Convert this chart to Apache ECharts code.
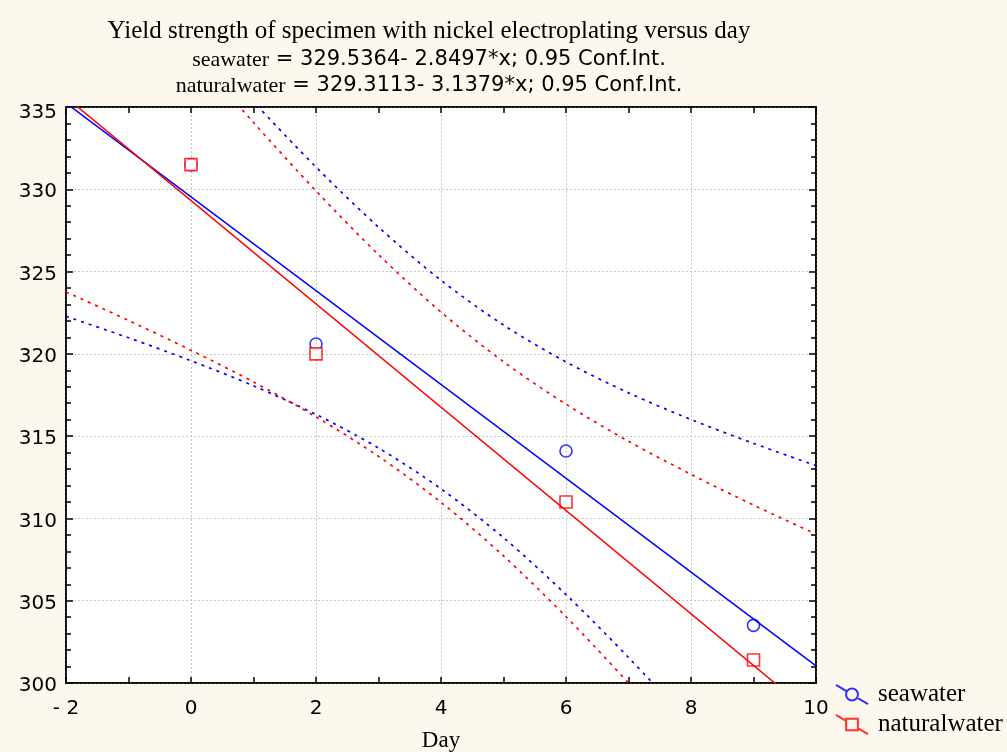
<!DOCTYPE html>
<html>
<head>
<meta charset="utf-8">
<script src="https://cdn.jsdelivr.net/npm/echarts@6/dist/echarts.min.js"></script>
<style>
html,body{margin:0;padding:0;background:#FCF8EE;}
#chart{width:1007px;height:752px;}
</style>
</head>
<body>
<div id="chart"></div>
<script>
// Observed data points
var dayX = [0, 2, 6, 9];
var seaY = [331.5, 320.6, 314.1, 303.5];
var natY = [331.5, 320.0, 311.0, 301.4];

// Regression lines (endpoints at axis limits)
var fitX = [-2, 10];
var seaFitY = [335.24, 301.04];
var natFitY = [335.59, 297.93];

// 0.95 confidence bands read at each day
var bandX = [-2, -1, 0, 1, 2, 3, 4, 5, 6, 7, 8, 9, 10];
var seaUpper = [348.19, 343.80, 339.49, 335.32, 331.35, 327.70, 324.47, 321.75, 319.51, 317.63, 316.01, 314.56, 313.21];
var seaLower = [322.28, 320.98, 319.58, 318.06, 316.32, 314.28, 311.80, 308.83, 305.37, 301.55, 297.47, 293.22, 288.87];
var natUpper = [347.42, 342.87, 338.40, 334.06, 329.90, 326.03, 322.54, 319.52, 316.94, 314.69, 312.68, 310.81, 309.05];
var natLower = [323.76, 322.03, 320.22, 318.29, 316.17, 313.77, 310.98, 307.72, 304.03, 300.00, 295.74, 291.33, 286.82];

// Titles
var titleMain = 'Yield strength of specimen with nickel electroplating versus day';
var eqSea = ['seawater', ' = 329.5364- 2.8497*x; 0.95 Conf.Int.'];
var eqNat = ['naturalwater', ' = 329.3113- 3.1379*x; 0.95 Conf.Int.'];
var xName = 'Day';

function zip(xs, ys) { return xs.map(function (x, i) { return [x, ys[i]]; }); }

var BLUE = '#0000FF', RED = '#FF0000';
var SERIF = 'Liberation Serif', SANS = 'DejaVu Sans';

var circleIcon = 'path://M0 1 L10.2 7.1 M19.8 12.9 L30 19 M20.6 10 A5.6 5.6 0 1 1 9.4 10 A5.6 5.6 0 1 1 20.6 10 Z';
var squareIcon = 'path://M0 1 L9.5 6.7 M20.5 13.3 L30 19 M9.5 4.5 L20.5 4.5 L20.5 15.5 L9.5 15.5 Z';

var chart = echarts.init(document.getElementById('chart'), null, {renderer: 'canvas'});

var axisLineStyle = {color: '#000', width: 1.5};

chart.setOption({
  backgroundColor: '#FCF8EE',
  animation: false,
  title: {
    left: 424,
    top: 10,
    textAlign: 'center',
    text: '{t|' + titleMain + '}\n{s|' + eqSea[0] + '}{n|' + eqSea[1] + '}\n{s|' + eqNat[0] + '}{n|' + eqNat[1] + '}',
    textStyle: {
      fontWeight: 'normal',
      rich: {
        t: {fontFamily: SERIF, fontSize: 25, fontWeight: 'normal', lineHeight: 32, color: '#000'},
        s: {fontFamily: SERIF, fontSize: 22, fontWeight: 'normal', lineHeight: 26, color: '#000'},
        n: {fontFamily: SANS, fontSize: 21, fontWeight: 'normal', lineHeight: 26, color: '#000'}
      }
    }
  },
  legend: {
    orient: 'vertical',
    left: 830,
    top: 677,
    itemWidth: 32,
    itemHeight: 20,
    itemGap: 5,
    textStyle: {fontFamily: SERIF, fontSize: 25, lineHeight: 20, color: '#000', padding: [0, 0, 0, 5]},
    data: [
      {name: 'seawater', icon: circleIcon, itemStyle: {color: 'transparent', borderColor: BLUE, borderWidth: 2}},
      {name: 'naturalwater', icon: squareIcon, itemStyle: {color: 'transparent', borderColor: RED, borderWidth: 2}}
    ]
  },
  grid: {
    left: 66, right: 191, top: 107, bottom: 69,
    outerBoundsMode: 'none', containLabel: false,
    show: true, backgroundColor: '#FFFFFF', borderColor: '#000', borderWidth: 1.5
  },
  xAxis: [{
    type: 'value', min: -2, max: 10, interval: 2,
    name: xName, nameLocation: 'middle', nameGap: 46,
    nameTextStyle: {fontFamily: SERIF, fontSize: 23, color: '#000'},
    axisLine: {show: true, onZero: false, lineStyle: axisLineStyle},
    axisTick: {show: true, inside: true, length: 6, lineStyle: {color: '#000', width: 1.5}},
    minorTick: {show: true, splitNumber: 2, length: 6, lineStyle: {color: '#000', width: 1.5}},
    splitLine: {show: true, lineStyle: {color: '#c8c8c8', type: [2, 2], width: 1}},
    axisLabel: {
      fontFamily: SANS, fontSize: 20, color: '#000', margin: 16,
      formatter: function (v) { return v < 0 ? '- ' + Math.abs(v) : String(v); }
    }
  }, {
    type: 'value', min: -2, max: 10, interval: 2, position: 'top',
    axisLine: {show: true, onZero: false, lineStyle: axisLineStyle},
    axisTick: {show: true, inside: true, length: 6, lineStyle: {color: '#000', width: 1.5}},
    minorTick: {show: true, splitNumber: 2, length: 6, lineStyle: {color: '#000', width: 1.5}},
    splitLine: {show: false},
    axisLabel: {show: false}
  }],
  yAxis: [{
    type: 'value', min: 300, max: 335, interval: 5,
    axisLine: {show: true, onZero: false, lineStyle: axisLineStyle},
    axisTick: {show: true, inside: true, length: 7, lineStyle: {color: '#000', width: 1.5}},
    minorTick: {show: true, splitNumber: 5, length: 5, lineStyle: {color: '#000', width: 1.5}},
    splitLine: {show: true, lineStyle: {color: '#c8c8c8', type: [2, 2], width: 1}},
    axisLabel: {
      fontFamily: SANS, fontSize: 20, color: '#000', margin: 9,
      formatter: function (v) { return v === 335 ? '{a|' + v + '}' : '{b|' + v + '}'; },
      rich: {
        a: {fontFamily: SANS, fontSize: 20, color: '#000', padding: [12, 0, 0, 0]},
        b: {fontFamily: SANS, fontSize: 20, color: '#000', padding: [6, 0, 0, 0]}
      }
    }
  }, {
    type: 'value', min: 300, max: 335, interval: 5, position: 'right',
    axisLine: {show: true, onZero: false, lineStyle: axisLineStyle},
    axisTick: {show: true, inside: true, length: 7, lineStyle: {color: '#000', width: 1.5}},
    minorTick: {show: true, splitNumber: 5, length: 5, lineStyle: {color: '#000', width: 1.5}},
    splitLine: {show: false},
    axisLabel: {show: false}
  }],
  series: [
    {name: 'seaUpper', type: 'line', data: zip(bandX, seaUpper), smooth: 0.3, symbol: 'none', silent: true,
     lineStyle: {color: BLUE, width: 1.7, type: [3, 5]}},
    {name: 'seaLower', type: 'line', data: zip(bandX, seaLower), smooth: 0.3, symbol: 'none', silent: true,
     lineStyle: {color: BLUE, width: 1.7, type: [3, 5]}},
    {name: 'natUpper', type: 'line', data: zip(bandX, natUpper), smooth: 0.3, symbol: 'none', silent: true,
     lineStyle: {color: RED, width: 1.7, type: [3, 5]}},
    {name: 'natLower', type: 'line', data: zip(bandX, natLower), smooth: 0.3, symbol: 'none', silent: true,
     lineStyle: {color: RED, width: 1.7, type: [3, 5]}},
    {name: 'seaFit', type: 'line', data: zip(fitX, seaFitY), symbol: 'none', silent: true,
     lineStyle: {color: BLUE, width: 1.5}},
    {name: 'natFit', type: 'line', data: zip(fitX, natFitY), symbol: 'none', silent: true,
     lineStyle: {color: RED, width: 1.5}},
    {name: 'seawater', type: 'scatter', data: zip(dayX, seaY), symbol: 'circle', symbolSize: 12,
     itemStyle: {color: 'transparent', borderColor: BLUE, borderWidth: 1.6}},
    {name: 'naturalwater', type: 'scatter', data: zip(dayX, natY), symbol: 'rect', symbolSize: 12,
     itemStyle: {color: '#FFFFFF', borderColor: RED, borderWidth: 1.6}}
  ]
});
</script>
</body>
</html>
